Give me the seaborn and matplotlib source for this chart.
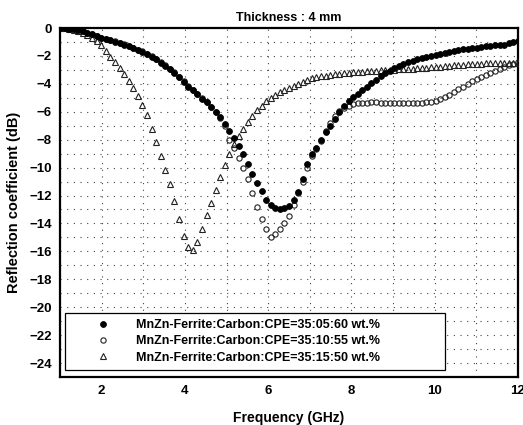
import matplotlib
matplotlib.use("Agg")
import matplotlib.pyplot as plt
import seaborn as sns
import pandas as pd
from matplotlib.ticker import MultipleLocator

freq = [1.00, 1.11, 1.22, 1.33, 1.44, 1.55, 1.66, 1.77, 1.88, 1.99,
        2.10, 2.21, 2.32, 2.43, 2.54, 2.65, 2.76, 2.87, 2.98, 3.09,
        3.20, 3.31, 3.42, 3.53, 3.64, 3.75, 3.86, 3.97, 4.08, 4.19,
        4.30, 4.41, 4.52, 4.63, 4.74, 4.85, 4.96, 5.07, 5.18, 5.29,
        5.40, 5.51, 5.62, 5.73, 5.84, 5.95, 6.06, 6.17, 6.28, 6.39,
        6.50, 6.61, 6.72, 6.83, 6.94, 7.05, 7.16, 7.27, 7.38, 7.49,
        7.60, 7.71, 7.82, 7.93, 8.04, 8.15, 8.26, 8.37, 8.48, 8.59,
        8.70, 8.81, 8.92, 9.03, 9.14, 9.25, 9.36, 9.47, 9.58, 9.69,
        9.80, 9.91, 10.02, 10.13, 10.24, 10.35, 10.46, 10.57, 10.68, 10.79,
        10.90, 11.01, 11.12, 11.23, 11.34, 11.45, 11.56, 11.67, 11.78, 11.89,
        12.00]

rl_05_60 = [0.0, -0.02, -0.05, -0.09, -0.15, -0.24, -0.34, -0.46, -0.58, -0.70,
            -0.79, -0.88, -0.97, -1.07, -1.18, -1.30, -1.42, -1.56, -1.70, -1.86,
            -2.05, -2.25, -2.50, -2.72, -2.95, -3.22, -3.52, -3.85, -4.20, -4.45,
            -4.75, -5.05, -5.30, -5.65, -6.00, -6.40, -6.85, -7.35, -7.90, -8.45,
            -9.05, -9.75, -10.45, -11.10, -11.70, -12.30, -12.70, -12.90, -12.97, -12.92,
            -12.75, -12.35, -11.75, -10.85, -9.75, -9.05, -8.60, -8.00, -7.45, -7.00,
            -6.55, -6.05, -5.60, -5.25, -4.95, -4.70, -4.45, -4.20, -3.95, -3.70,
            -3.45, -3.22, -3.05, -2.88, -2.72, -2.58, -2.46, -2.35, -2.25, -2.15,
            -2.07, -2.00, -1.92, -1.84, -1.77, -1.70, -1.64, -1.58, -1.53, -1.48,
            -1.44, -1.40, -1.36, -1.32, -1.28, -1.25, -1.22, -1.18, -1.10, -1.00,
            -0.90]

rl_10_55 = [0.0, -0.02, -0.05, -0.09, -0.15, -0.23, -0.33, -0.44, -0.56, -0.68,
            -0.77, -0.86, -0.95, -1.05, -1.16, -1.28, -1.40, -1.54, -1.68, -1.84,
            -2.02, -2.22, -2.46, -2.68, -2.92, -3.18, -3.48, -3.80, -4.15, -4.42,
            -4.72, -5.02, -5.30, -5.65, -6.00, -6.45, -7.00, -8.00, -8.60, -9.30,
            -10.00, -10.80, -11.80, -12.80, -13.70, -14.40, -14.95, -14.75, -14.40, -13.95,
            -13.45, -12.70, -11.85, -11.00, -10.00, -9.20, -8.70, -8.10, -7.40, -6.80,
            -6.30, -5.95, -5.70, -5.55, -5.45, -5.40, -5.36, -5.34, -5.33, -5.33,
            -5.34, -5.35, -5.36, -5.37, -5.38, -5.38, -5.38, -5.37, -5.36, -5.35,
            -5.33, -5.30, -5.25, -5.10, -4.95, -4.80, -4.60, -4.40, -4.20, -4.00,
            -3.80, -3.65, -3.50, -3.35, -3.20, -3.05, -2.90, -2.78, -2.65, -2.55,
            -2.45]

rl_15_50 = [0.0, -0.02, -0.06, -0.12, -0.22, -0.36, -0.52, -0.70, -0.92, -1.25,
            -1.65, -2.05, -2.40, -2.85, -3.30, -3.80, -4.30, -4.85, -5.50, -6.25,
            -7.20, -8.20, -9.20, -10.20, -11.20, -12.40, -13.70, -14.90, -15.70, -15.90,
            -15.30, -14.40, -13.40, -12.50, -11.60, -10.70, -9.80, -9.00, -8.30, -7.70,
            -7.20, -6.70, -6.30, -5.90, -5.55, -5.25, -5.00, -4.80, -4.60, -4.45,
            -4.30, -4.15, -4.00, -3.85, -3.72, -3.60, -3.52, -3.45, -3.40, -3.35,
            -3.30, -3.26, -3.22, -3.19, -3.16, -3.14, -3.12, -3.10, -3.08, -3.06,
            -3.04, -3.02, -3.00, -2.98, -2.96, -2.94, -2.92, -2.90, -2.88, -2.86,
            -2.84, -2.82, -2.80, -2.77, -2.74, -2.71, -2.68, -2.65, -2.62, -2.60,
            -2.58, -2.56, -2.54, -2.53, -2.52, -2.51, -2.50, -2.50, -2.50, -2.50,
            -2.50]

labels = ["MnZn-Ferrite:Carbon:CPE=35:05:60 wt.%",
          "MnZn-Ferrite:Carbon:CPE=35:10:55 wt.%",
          "MnZn-Ferrite:Carbon:CPE=35:15:50 wt.%"]

title = "Thickness : 4 mm"
xlabel = "Frequency (GHz)"
ylabel = "Reflection coefficient (dB)"
xticks = [2, 4, 6, 8, 10, 12]
yticks = [0, -2, -4, -6, -8, -10, -12, -14, -16, -18, -20, -22, -24]

sns.set_style("white")
plt.rcParams["font.family"] = ["Liberation Sans", "DejaVu Sans"]
plt.rcParams["font.weight"] = "bold"
plt.rcParams["text.color"] = "black"
plt.rcParams["axes.labelcolor"] = "black"
plt.rcParams["xtick.color"] = "black"
plt.rcParams["ytick.color"] = "black"

fig = plt.figure(figsize=(5.23, 4.25), dpi=100)
ax = fig.add_axes([0.1147, 0.113, 0.8757, 0.821])

df = pd.DataFrame({"f": freq, "a": rl_05_60, "b": rl_10_55, "c": rl_15_50})

sns.lineplot(data=df, x="f", y="a", ax=ax, linestyle="none", marker="o",
             markersize=4.2, markerfacecolor="black", markeredgecolor="black",
             markeredgewidth=0.6, color="black", label=labels[0], zorder=5,
             estimator=None, sort=False)
sns.lineplot(data=df, x="f", y="b", ax=ax, linestyle="none", marker="o",
             markersize=3.8, markerfacecolor="none", markeredgecolor="#222222",
             markeredgewidth=0.8, color="black", label=labels[1], zorder=4,
             estimator=None, sort=False)
sns.lineplot(data=df, x="f", y="c", ax=ax, linestyle="none", marker="^",
             markersize=4.3, markerfacecolor="none", markeredgecolor="#222222",
             markeredgewidth=0.8, color="black", label=labels[2], zorder=3,
             estimator=None, sort=False)

ax.set_xlim(1, 12)
ax.set_ylim(-25, 0)
ax.set_xticks(xticks)
ax.set_yticks(yticks)
ax.xaxis.set_minor_locator(MultipleLocator(1))
ax.yaxis.set_minor_locator(MultipleLocator(1))
ax.grid(True, which="both", color="#444444", linestyle=(0, (1, 5)), linewidth=0.8)
ax.tick_params(axis="both", which="both", length=0, labelsize=9.5, pad=6,
               colors="black")
for t in ax.get_xticklabels() + ax.get_yticklabels():
    t.set_fontweight("bold")
for s in ax.spines.values():
    s.set_visible(True)
    s.set_color("black")
    s.set_linewidth(1.6)

ax.set_title(title, fontsize=9, fontweight="bold", pad=5, color="black")
ax.set_xlabel(xlabel, fontsize=10, fontweight="bold", labelpad=10, color="black")
ax.set_ylabel(ylabel, fontsize=10.5, fontweight="bold", labelpad=6, color="black")

leg = ax.legend(loc="lower left", bbox_to_anchor=(0.011, 0.02, 0.83, 0.18),
                mode="expand", frameon=True, fancybox=False, framealpha=1,
                edgecolor="black", fontsize=9, handlelength=5, handletextpad=0.2,
                borderpad=0.5, labelspacing=0.35, borderaxespad=0)
leg.get_frame().set_linewidth(0.9)
for t in leg.get_texts():
    t.set_fontweight("bold")
    t.set_color("black")

fig.savefig("out.png", dpi=100)
